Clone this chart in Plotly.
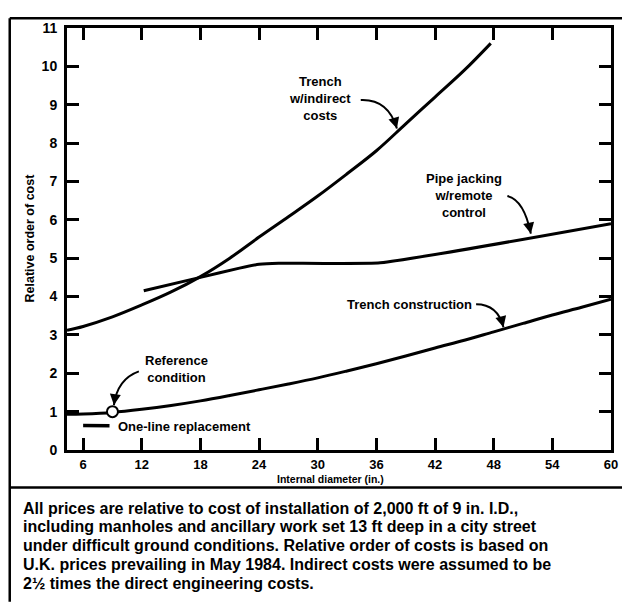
import plotly.graph_objects as go

# ---------------- data ----------------
trench_indirect_x = [4.35, 6, 9, 12, 15, 18, 21, 24, 27, 30, 33, 36, 39, 42, 45, 47.7]
trench_indirect_y = [3.12, 3.22, 3.47, 3.78, 4.12, 4.52, 5.0, 5.55, 6.08, 6.62, 7.2, 7.8, 8.5, 9.2, 9.9, 10.6]

pipe_jacking_x = [12.2, 18, 22, 24, 26, 36.4, 60]
pipe_jacking_y = [4.15, 4.5, 4.74, 4.84, 4.87, 4.88, 5.9]

trench_constr_x = [4.35, 6, 9, 12, 15, 18, 21, 24, 27, 30, 33, 36, 39, 42, 45, 48, 51, 54, 57, 60]
trench_constr_y = [0.93, 0.94, 0.98, 1.06, 1.16, 1.28, 1.42, 1.57, 1.72, 1.88, 2.06, 2.25, 2.45, 2.66, 2.86, 3.08, 3.3, 3.52, 3.72, 3.93]

one_line_x = [6.0, 8.7]
one_line_y = [0.64, 0.63]

reference_x = [9]
reference_y = [1.0]

x_ticks = [6, 12, 18, 24, 30, 36, 42, 48, 54, 60]
y_ticks = list(range(0, 12))

caption_lines = [
    "All prices are relative to cost of installation of 2,000 ft of 9 in. I.D.,",
    "including manholes and ancillary work set 13 ft deep in a city street",
    "under difficult ground conditions. Relative order of costs is based on",
    "U.K. prices prevailing in May 1984. Indirect costs were assumed to be",
    "2½ times the direct engineering costs.",
]

# ---------------- layout geometry ----------------
# page body has an 8px margin, so figure coordinates are shifted by 8px
OFF = 8
W, H = 630 - OFF, 604 - OFF
PL, PR, PT, PB = 67 - OFF, 618 - OFF, 22 - OFF, 450 - OFF


def pxx(px):
    """page x pixel -> paper coordinate"""
    return (px - OFF - PL) / (PR - PL)


def pxy(py):
    """page y pixel -> paper coordinate"""
    return (PB - (py - OFF)) / (PB - PT)


FONT = "Liberation Sans"

fig = go.Figure()

fig.add_trace(go.Scatter(x=trench_indirect_x, y=trench_indirect_y, mode="lines",
                         line=dict(color="black", width=3, shape="spline"), hoverinfo="skip"))
fig.add_trace(go.Scatter(x=pipe_jacking_x, y=pipe_jacking_y, mode="lines",
                         line=dict(color="black", width=3, shape="spline", smoothing=0.4), hoverinfo="skip"))
fig.add_trace(go.Scatter(x=trench_constr_x, y=trench_constr_y, mode="lines",
                         line=dict(color="black", width=3, shape="spline"), hoverinfo="skip"))
fig.add_trace(go.Scatter(x=one_line_x, y=one_line_y, mode="lines",
                         line=dict(color="black", width=3.5), hoverinfo="skip"))
fig.add_trace(go.Scatter(x=reference_x, y=reference_y, mode="markers",
                         marker=dict(symbol="circle", size=11, color="white",
                                     line=dict(color="black", width=2)), hoverinfo="skip"))

# curved leader arrows (quadratic bezier paths in data coords)
leaders = [
    ((34.4, 9.12), (37.2, 9.15), (38.1, 8.38)),
    ((49.4, 6.62), (51.1, 6.52), (51.8, 5.64)),
    ((46.2, 3.80), (48.4, 3.80), (49.0, 3.20)),
    ((11.7, 2.05), (9.5, 1.85), (9.15, 1.17)),
]
annotations = []
for (sx, sy), (cx, cy), (ex, ey) in leaders:
    fig.add_shape(type="path", xref="x", yref="y",
                  path=f"M {sx},{sy} Q {cx},{cy} {ex},{ey}",
                  line=dict(color="black", width=2))
    annotations.append(dict(x=ex, y=ey, ax=ex - (ex - cx) * 0.35, ay=ey - (ey - cy) * 0.35,
                            xref="x", yref="y", axref="x", ayref="y", text="",
                            showarrow=True, arrowhead=2, arrowsize=1.1, arrowwidth=2,
                            arrowcolor="black"))

lab_font = dict(family=FONT, size=13, color="black", weight=700)
annotations += [
    dict(x=30.2, y=9.16, text="Trench<br>w/indirect<br>costs", showarrow=False,
         xref="x", yref="y", font=lab_font, align="center", xanchor="center", yanchor="middle"),
    dict(x=45.0, y=6.64, text="Pipe jacking<br>w/remote<br>control", showarrow=False,
         xref="x", yref="y", font=lab_font, align="center", xanchor="center", yanchor="middle"),
    dict(x=46.0, y=3.80, text="Trench construction", showarrow=False, xanchor="right",
         yanchor="middle", xref="x", yref="y", font=lab_font),
    dict(x=15.5, y=2.12, text="Reference<br>condition", showarrow=False,
         xref="x", yref="y", font=lab_font, align="center", xanchor="center", yanchor="middle"),
    dict(x=9.4, y=0.60, text="One-line replacement", showarrow=False, xanchor="left",
         yanchor="middle", xref="x", yref="y", font=lab_font),
]

# axis titles
annotations.append(dict(x=pxx(30), y=pxy(235), xref="paper", yref="paper",
                        xanchor="center", yanchor="middle",
                        text="Relative order of cost", textangle=-90, showarrow=False,
                        font=dict(family=FONT, size=12.5, color="black", weight=700)))
annotations.append(dict(x=pxx(334), y=pxy(479), xref="paper", yref="paper",
                        xanchor="center", yanchor="middle",
                        text="Internal diameter (in.)", showarrow=False,
                        font=dict(family=FONT, size=10.5, color="black", weight=700)))

# caption
cap_y = [509, 528, 547, 566, 585]
for txt, cy in zip(caption_lines, cap_y):
    annotations.append(dict(x=pxx(20), y=pxy(cy), xref="paper", yref="paper",
                            xanchor="left", yanchor="middle", text=txt, showarrow=False,
                            font=dict(family=FONT, size=16, color="black", weight=700)))

# outer frame lines (page pixel coordinates)
frame = [
    (9, 12, 630, 12),
    (9, 12, 9, 604),
    (9, 488, 630, 488),
]
for x0, y0, x1, y1 in frame:
    fig.add_shape(type="line", xref="paper", yref="paper",
                  x0=pxx(x0), y0=pxy(y0), x1=pxx(x1), y1=pxy(y1),
                  line=dict(color="black", width=2.5))

fig.update_layout(
    width=W, height=H,
    margin=dict(l=PL, r=W - PR, t=PT, b=H - PB, pad=0),
    paper_bgcolor="white", plot_bgcolor="white",
    showlegend=False,
    annotations=annotations,
    xaxis=dict(range=[4.35, 60], tickvals=x_ticks, ticktext=[str(v) for v in x_ticks],
               ticks="inside", ticklen=12, tickwidth=2.5, tickcolor="black",
               showline=True, linewidth=3, linecolor="black", mirror="allticks",
               showgrid=False, zeroline=False,
               tickfont=dict(family=FONT, size=13, color="black", weight=700),
               ticklabelstandoff=0),
    yaxis=dict(range=[0, 11], tickvals=y_ticks, ticktext=[str(v) for v in y_ticks],
               ticks="inside", ticklen=12, tickwidth=2.5, tickcolor="black",
               showline=True, linewidth=3, linecolor="black", mirror="allticks",
               showgrid=False, zeroline=False,
               tickfont=dict(family=FONT, size=14, color="black", weight=700),
               ticklabelstandoff=4),
)

fig.write_html("out.html")
